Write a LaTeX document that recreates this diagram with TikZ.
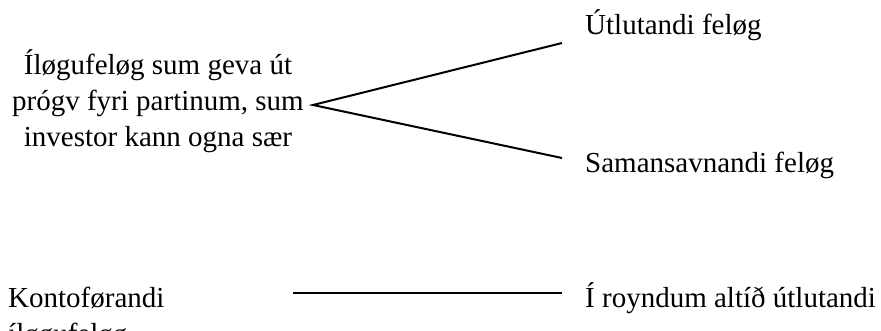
\documentclass[tikz,border=0pt]{standalone}
\usepackage{fontspec}
\setmainfont{Liberation Serif}
\begin{document}
\begin{tikzpicture}[x=1pt,y=-1pt,
  lbl/.style={inner sep=0pt,font=\fontsize{29}{36}\selectfont},
  conn/.style={line width=2pt,black}]
\useasboundingbox (0,0) rectangle (881,331);
\node[lbl,align=center,anchor=base] (src) at (158,147)
  {Íløgufeløg sum geva út\\prógv fyri partinum, sum\\investor kann ogna sær};
\coordinate (apex) at (313,105);
\coordinate (up) at (562,43);
\coordinate (dn) at (562,158);
\node[lbl,anchor=base west] (utl) at (585,35) {Útlutandi feløg};
\node[lbl,anchor=base west] (sam) at (585,173) {Samansavnandi feløg};
\draw[conn] (up) -- (apex) -- (dn);
\node[lbl,align=left,anchor=base west] (kon) at (8,343) {Kontoførandi\\íløgufeløg};
\coordinate (bl) at (293,293);
\coordinate (br) at (562,293);
\draw[conn] (bl) -- (br);
\node[lbl,anchor=base west] (roy) at (585,307) {Í royndum altíð útlutandi};
\end{tikzpicture}
\end{document}
